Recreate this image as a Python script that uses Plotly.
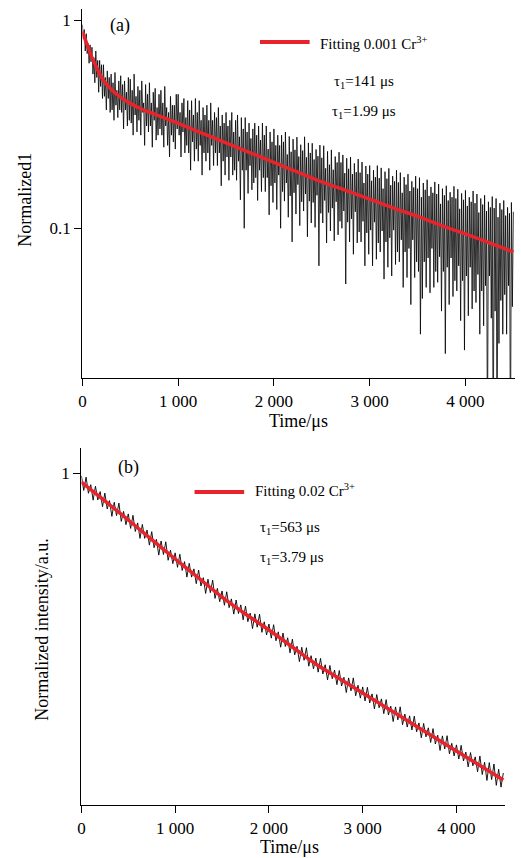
import plotly.graph_objects as go

# ---------------- data: panel (a) ----------------
time_a = [i * 10 for i in range(451)]
signal_a = [
    0.95, 0.81, 0.90, 0.71, 0.86, 0.69, 0.77, 0.62, 0.76, 0.63,
    0.74, 0.55, 0.66, 0.50, 0.71, 0.53, 0.64, 0.45, 0.64, 0.48,
    0.61, 0.42, 0.61, 0.43, 0.53, 0.37, 0.57, 0.42, 0.53, 0.36,
    0.55, 0.37, 0.50, 0.33, 0.56, 0.39, 0.46, 0.34, 0.51, 0.37,
    0.54, 0.36, 0.49, 0.30, 0.51, 0.37, 0.45, 0.31, 0.53, 0.33,
    0.52, 0.32, 0.46, 0.28, 0.55, 0.35, 0.43, 0.29, 0.48, 0.33,
    0.46, 0.28, 0.51, 0.36, 0.40, 0.25, 0.49, 0.31, 0.44, 0.29,
    0.50, 0.31, 0.40, 0.245, 0.45, 0.33, 0.47, 0.265, 0.38, 0.28,
    0.44, 0.30, 0.46, 0.28, 0.40, 0.245, 0.48, 0.31, 0.38, 0.25,
    0.36, 0.22, 0.43, 0.28, 0.39, 0.26, 0.39, 0.24, 0.44, 0.30,
    0.44, 0.28, 0.36, 0.22, 0.40, 0.29, 0.42, 0.23, 0.34, 0.25,
    0.41, 0.23, 0.37, 0.19, 0.41, 0.26, 0.35, 0.21, 0.42, 0.24,
    0.36, 0.21, 0.41, 0.25, 0.33, 0.18, 0.38, 0.23, 0.35, 0.21,
    0.39, 0.23, 0.33, 0.19, 0.40, 0.25, 0.33, 0.20, 0.36, 0.23,
    0.34, 0.20, 0.38, 0.23, 0.31, 0.16, 0.35, 0.21, 0.32, 0.18,
    0.36, 0.22, 0.31, 0.17, 0.33, 0.22, 0.36, 0.18, 0.29, 0.19,
    0.33, 0.17, 0.35, 0.21, 0.275, 0.137, 0.34, 0.19, 0.30, 0.10,
    0.34, 0.19, 0.29, 0.147, 0.32, 0.20, 0.27, 0.153, 0.30, 0.165,
    0.32, 0.175, 0.28, 0.136, 0.31, 0.19, 0.265, 0.15, 0.32, 0.175,
    0.28, 0.15, 0.31, 0.175, 0.24, 0.116, 0.29, 0.16, 0.26, 0.133,
    0.30, 0.165, 0.25, 0.123, 0.28, 0.18, 0.25, 0.10, 0.28, 0.15,
    0.26, 0.135, 0.29, 0.165, 0.226, 0.113, 0.276, 0.143, 0.233, 0.086,
    0.268, 0.148, 0.238, 0.117, 0.274, 0.162, 0.221, 0.103, 0.252, 0.134,
    0.236, 0.121, 0.275, 0.146, 0.219, 0.091, 0.257, 0.135, 0.23, 0.106,
    0.256, 0.133, 0.214, 0.101, 0.239, 0.144, 0.222, 0.066, 0.251, 0.118,
    0.218, 0.106, 0.249, 0.136, 0.194, 0.085, 0.234, 0.119, 0.202, 0.097,
    0.238, 0.125, 0.191, 0.087, 0.221, 0.134, 0.207, 0.093, 0.232, 0.108,
    0.207, 0.1, 0.225, 0.121, 0.184, 0.054, 0.217, 0.107, 0.193, 0.086,
    0.22, 0.111, 0.182, 0.075, 0.205, 0.12, 0.186, 0.085, 0.215, 0.096,
    0.185, 0.086, 0.208, 0.108, 0.165, 0.066, 0.199, 0.095, 0.182, 0.075,
    0.20, 0.098, 0.169, 0.066, 0.19, 0.107, 0.176, 0.071, 0.20, 0.085,
    0.174, 0.077, 0.195, 0.097, 0.155, 0.057, 0.187, 0.086, 0.173, 0.065,
    0.194, 0.09, 0.161, 0.059, 0.178, 0.098, 0.168, 0.067, 0.19, 0.077,
    0.166, 0.069, 0.185, 0.088, 0.148, 0.052, 0.176, 0.077, 0.162, 0.058,
    0.182, 0.08, 0.151, 0.043, 0.168, 0.088, 0.157, 0.058, 0.178, 0.069,
    0.155, 0.062, 0.175, 0.031, 0.141, 0.046, 0.165, 0.069, 0.153, 0.052,
    0.171, 0.072, 0.143, 0.049, 0.158, 0.08, 0.148, 0.052, 0.167, 0.062,
    0.146, 0.055, 0.163, 0.073, 0.131, 0.04, 0.155, 0.062, 0.144, 0.025,
    0.16, 0.065, 0.136, 0.043, 0.149, 0.072, 0.141, 0.047, 0.159, 0.056,
    0.139, 0.05, 0.154, 0.066, 0.124, 0.036, 0.147, 0.056, 0.137, 0.026,
    0.152, 0.059, 0.128, 0.038, 0.141, 0.065, 0.134, 0.041, 0.151, 0.05,
    0.132, 0.044, 0.146, 0.06, 0.119, 0.031, 0.139, 0.05, 0.13, 0.034,
    0.144, 0.053, 0.121, 0.0085, 0.134, 0.059, 0.126, 0.037, 0.142, 0.0067,
    0.125, 0.04, 0.139, 0.0082, 0.113, 0.028, 0.132, 0.045, 0.123, 0.031,
    0.136, 0.048, 0.115, 0.031, 0.126, 0.053, 0.118, 0.0078, 0.133, 0.042,
    0.12,
]
fit_time_a = [0, 50, 100, 150, 200, 300, 400, 500, 600, 700, 1000, 1250, 1500,
              1750, 2000, 2250, 2500, 2750, 3000, 3250, 3500, 3750, 4000, 4250,
              4500]
fit_a = [0.88, 0.76, 0.66, 0.59, 0.53, 0.465, 0.425, 0.398, 0.377, 0.361,
         0.319, 0.286, 0.257, 0.231, 0.207, 0.186, 0.167, 0.152, 0.138, 0.125,
         0.114, 0.103, 0.094, 0.085, 0.077]

# ---------------- data: panel (b) ----------------
time_b = [i * 25 for i in range(181)]
signal_b = [
    0.935, 0.669, 0.909, 0.627, 0.764, 0.535, 0.738, 0.538, 0.652, 0.460,
    0.630, 0.437, 0.529, 0.368, 0.510, 0.375, 0.500, 0.328, 0.413, 0.304,
    0.390, 0.279, 0.378, 0.260, 0.317, 0.222, 0.306, 0.222, 0.269, 0.190,
    0.259, 0.179, 0.217, 0.151, 0.209, 0.153, 0.205, 0.134, 0.169, 0.124,
    0.159, 0.114, 0.154, 0.106, 0.130, 0.0910, 0.125, 0.0909, 0.110, 0.0782,
    0.107, 0.0742, 0.0898, 0.0625, 0.0867, 0.0636, 0.0848, 0.0557, 0.0702, 0.0516,
    0.0661, 0.0476, 0.0649, 0.0450, 0.0551, 0.0388, 0.0537, 0.0393, 0.0480, 0.0340,
    0.0467, 0.0326, 0.0397, 0.0278, 0.0390, 0.0287, 0.0387, 0.0255, 0.0325, 0.0240,
    0.0309, 0.0223, 0.0304, 0.0210, 0.0258, 0.0181, 0.0251, 0.0184, 0.0225, 0.0159,
    0.0218, 0.0152, 0.0185, 0.0130, 0.0181, 0.0134, 0.0179, 0.0117, 0.0149, 0.0110,
    0.0141, 0.0102, 0.0140, 0.00977, 0.0121, 0.00853, 0.0119, 0.00877, 0.0107, 0.00765,
    0.0106, 0.00741, 0.00906, 0.00638, 0.00894, 0.00663, 0.00894, 0.00592, 0.00755, 0.00561,
    0.00726, 0.00525, 0.00720, 0.00502, 0.00618, 0.00438, 0.00609, 0.00449, 0.00551, 0.00392,
    0.00542, 0.00380, 0.00465, 0.00327, 0.00458, 0.00340, 0.00459, 0.00304, 0.00388, 0.00288,
    0.00373, 0.00269, 0.00370, 0.00258, 0.00317, 0.00225, 0.00313, 0.00230, 0.00283, 0.00202,
    0.00278, 0.00195, 0.00239, 0.00168, 0.00235, 0.00174, 0.00236, 0.00156, 0.00198, 0.00148,
    0.00191, 0.00138, 0.00189, 0.00132, 0.00162, 0.00115, 0.00160, 0.00118, 0.00145, 0.00103,
    0.00148, 0.000966, 0.00128, 0.000842, 0.00127, 0.000859, 0.00123, 0.000753, 0.00109, 0.000722,
    0.00100,
]
fit_time_b = [0, 250, 500, 750, 1000, 1250, 1500, 1750, 2000, 2250, 2500, 2750,
              3000, 3250, 3500, 3750, 4000, 4250, 4500]
fit_b = [0.813, 0.525, 0.339, 0.216, 0.138, 0.0891, 0.0575, 0.0389, 0.0269,
         0.0182, 0.0123, 0.00881, 0.00631, 0.00452, 0.00324, 0.00232, 0.00166,
         0.00119, 0.000851]

x_tick_vals = [0, 1000, 2000, 3000, 4000]
x_tick_text = ["0", "1 000", "2 000", "3 000", "4 000"]

W, H = 521, 858
FONT = "Liberation Serif, Times New Roman, serif"
RED = "#e8232b"


def px(x):
    return x / W


def py(y):
    return 1 - y / H


fig = go.Figure()
fig.add_trace(go.Scatter(x=time_a, y=signal_a, mode="lines",
                         line=dict(color="black", width=0.8),
                         xaxis="x", yaxis="y", showlegend=False))
fig.add_trace(go.Scatter(x=fit_time_a, y=fit_a, mode="lines",
                         line=dict(color=RED, width=3.5, shape="spline"),
                         xaxis="x", yaxis="y", showlegend=False))
fig.add_trace(go.Scatter(x=time_b, y=signal_b, mode="lines",
                         line=dict(color="black", width=0.9),
                         xaxis="x2", yaxis="y2", showlegend=False))
fig.add_trace(go.Scatter(x=fit_time_b, y=fit_b, mode="lines",
                         line=dict(color=RED, width=3.5, shape="spline"),
                         xaxis="x2", yaxis="y2", showlegend=False))

axis_common = dict(showline=True, linecolor="black", linewidth=1.3,
                   ticks="outside", ticklen=7, tickwidth=1.2, tickcolor="black",
                   showgrid=False, zeroline=False,
                   tickfont=dict(family=FONT, size=17, color="black"))

fig.update_layout(
    width=W, height=H,
    margin=dict(l=0, r=0, t=0, b=0),
    paper_bgcolor="white", plot_bgcolor="white",
    font=dict(family=FONT, color="black"),
    xaxis=dict(domain=[px(79), px(515)], range=[0, 4518], anchor="y",
               tickvals=x_tick_vals, ticktext=x_tick_text, **axis_common),
    yaxis=dict(domain=[py(378), py(9)], type="log", range=[-1.719, 0.053],
               anchor="x", tickvals=[0.1, 1], ticktext=["0.1", "1"],
               **axis_common),
    xaxis2=dict(domain=[px(78), px(505)], range=[0, 4519], anchor="y2",
                tickvals=x_tick_vals, ticktext=x_tick_text, **axis_common),
    yaxis2=dict(domain=[py(805), py(448)], type="log", range=[-3.32, 0.25],
                anchor="x2", tickvals=[1], ticktext=["1"], **axis_common),
)

ann = []


def add_text(x, y, text, size=17, angle=0, xanchor="center"):
    ann.append(dict(x=px(x), y=py(y), xref="paper", yref="paper", text=text,
                    showarrow=False, textangle=angle, xanchor=xanchor,
                    yanchor="middle",
                    font=dict(family=FONT, size=size, color="black")))


# axis titles
add_text(297, 421, "Time/μs", 18)
add_text(288, 847, "Time/μs", 18)
add_text(21, 200, "Normalized1", 18, angle=-90)
add_text(38, 630, "Normalized intensity/a.u.", 18, angle=-90)
# panel labels
add_text(117, 26, "(a)", 18)
add_text(125, 468, "(b)", 18)
# legend texts
add_text(316, 43, "Fitting 0.001 Cr<sup>3+</sup>", 15, xanchor="left")
add_text(363, 82, "τ<sub>1</sub>=141 μs", 15)
add_text(363, 112, "τ<sub>1</sub>=1.99 μs", 15)
add_text(251, 490, "Fitting 0.02 Cr<sup>3+</sup>", 15, xanchor="left")
add_text(288, 528, "τ<sub>1</sub>=563 μs", 15)
add_text(290, 558, "τ<sub>1</sub>=3.79 μs", 15)
fig.update_layout(annotations=ann)

fig.update_layout(shapes=[
    dict(type="line", xref="paper", yref="paper", x0=px(258), x1=px(308),
         y0=py(42), y1=py(42), line=dict(color=RED, width=4)),
    dict(type="line", xref="paper", yref="paper", x0=px(192), x1=px(242),
         y0=py(492), y1=py(492), line=dict(color=RED, width=4)),
])

fig.write_html("out.html")
